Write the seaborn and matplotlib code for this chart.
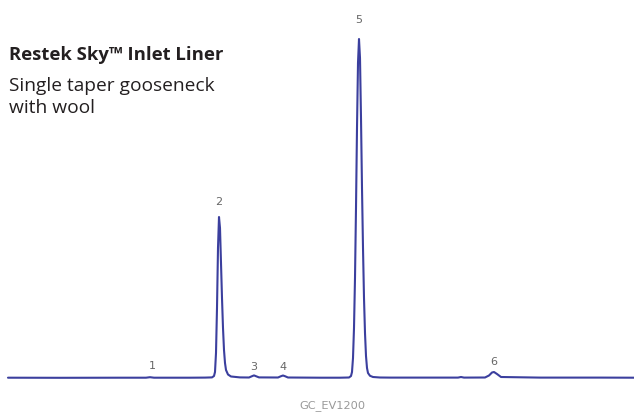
import matplotlib
matplotlib.use("Agg")
import matplotlib.pyplot as plt
import seaborn as sns
import pandas as pd

# Chromatogram trace (retention axis, detector signal)
trace_x = [8, 60, 120, 146, 150, 154, 190, 205, 212, 214, 215, 216, 217, 218, 219,
           220, 221, 222, 223, 224, 225, 226, 228, 231, 240, 249, 252, 254, 256, 259,
           278, 281, 283, 285, 288, 320, 340, 349, 351, 352, 353, 354, 355, 356, 357,
           358, 359, 360, 361, 362, 363, 364, 365, 366, 367, 368, 370, 373, 380, 390,
           440, 458, 461, 464, 485, 489, 492, 494, 497, 501, 540, 600, 634]
trace_y = [0.3, 0.2, 0.3, 0.3, 0.8, 0.3, 0.3, 0.4, 0.6, 2, 6, 25, 70, 130, 161,
           150, 115, 80, 50, 28, 15, 8, 3.5, 1.5, 0.6, 0.5, 1.8, 2.6, 1.8, 0.6,
           0.5, 1.8, 2.5, 1.8, 0.5, 0.3, 0.3, 0.5, 2, 6, 20, 50, 100, 170, 250,
           315, 339, 320, 260, 190, 130, 80, 45, 22, 10, 5, 2.2, 1.0, 0.5, 0.4,
           0.4, 0.4, 1.0, 0.4, 0.5, 2.5, 5.5, 6.0, 4, 1.0, 0.4, 0.4, 0.3]

peak_labels = ["1", "2", "3", "4", "5", "6"]
peak_x = [152, 219, 254, 283, 359, 494]
peak_label_y = [12, 176, 11, 11, 358, 16]

title = "Restek Sky\u2122 Inlet Liner"
subtitle_lines = ["Single taper gooseneck", "with wool"]
code = "GC_EV1200"

df = pd.DataFrame({"t": trace_x, "signal": trace_y})

sns.set_style("white")
fig = plt.figure(figsize=(6.34, 4.16), dpi=100)
ax = fig.add_axes([0, 0, 1, 1])
sns.lineplot(data=df, x="t", y="signal", ax=ax, color="#3b3f9e", linewidth=1.5,
             estimator=None, sort=False)
ax.set_xlim(0, 634)
ax.set_ylim(-38, 378)
ax.axis("off")

for lab, x, y in zip(peak_labels, peak_x, peak_label_y):
    ax.text(x, y, lab, ha="center", va="center", fontsize=8,
            color="#666666", family="DejaVu Sans")

fig.text(9 / 634, 1 - 60 / 416, title, ha="left", va="baseline", fontsize=13.3,
         fontweight="bold", color="#231f20", family="Open Sans")
for i, line in enumerate(subtitle_lines):
    fig.text(9 / 634, 1 - (91 + 22 * i) / 416, line, ha="left", va="baseline",
             fontsize=13.8, color="#231f20", family="Open Sans")
fig.text(332 / 634, 1 - 406 / 416, code, ha="center", va="center", fontsize=8.2,
         color="#999999", family="DejaVu Sans")

fig.savefig("out.png", dpi=100)
